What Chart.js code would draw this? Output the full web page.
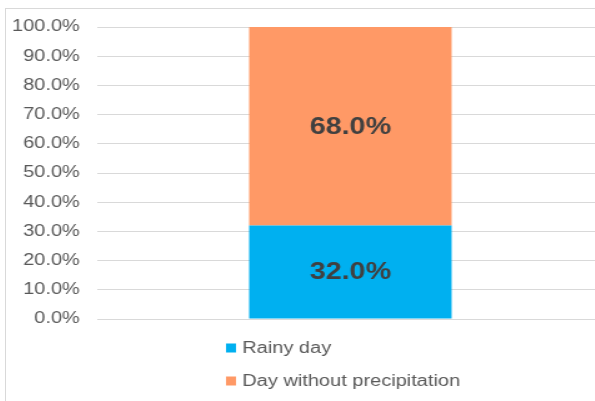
<!DOCTYPE html>
<html lang="en">

<head>
  <meta charset="UTF-8" />
  <title>Rainy days vs days without precipitation</title>
  <script src="https://cdn.jsdelivr.net/npm/chart.js"></script>

  <style>
    body {
      margin: 0;
      background: #fff;
      overflow: hidden;
      font-family: 'Liberation Sans', Arial, sans-serif;
    }

    .frame {
      position: absolute;
      left: 5px;
      top: 8px;
      width: 620px;
      height: 420px;
      border: 1px solid #d9d9d9;
    }

    #rainChart {
      position: absolute;
      left: 6px;
      top: 9px;
      transform: scaleX(1.25);
      transform-origin: 0 0;
    }
  </style>
</head>

<body>
  <div class="frame"></div>
  <canvas id="rainChart" width="486" height="392"></canvas>

  <script>
    // data
    const categories = ['Days'];
    const seriesNames = ['Rainy day', 'Day without precipitation'];
    const rainyDay = [32.0];
    const dryDay = [68.0];
    const seriesColors = ['#00B0F0', '#FF9966'];

    const fontFamily = "'Liberation Sans', Arial, sans-serif";

    // values written in the middle of each bar piece
    const barLabels = {
      id: 'barLabels',
      afterDatasetsDraw(chart) {
        const ctx = chart.ctx;
        ctx.save();
        ctx.font = 'bold 23px ' + fontFamily;
        ctx.fillStyle = '#404040';
        ctx.textAlign = 'center';
        ctx.textBaseline = 'middle';
        chart.data.datasets.forEach((ds, i) => {
          chart.getDatasetMeta(i).data.forEach((bar, j) => {
            const p = bar.getCenterPoint();
            ctx.fillText(ds.data[j].toFixed(1) + '%', p.x, p.y + 1);
          });
        });
        ctx.restore();
      }
    };

    // legend stacked one item per row under the plot
    const stackedLegend = {
      id: 'stackedLegend',
      afterDraw(chart) {
        const ctx = chart.ctx;
        const left = 176;
        let y = chart.chartArea.bottom + 29;
        ctx.save();
        ctx.font = '16px ' + fontFamily;
        ctx.textBaseline = 'middle';
        chart.data.datasets.forEach(ds => {
          ctx.fillStyle = ds.backgroundColor;
          ctx.fillRect(left, y - 4.5, 8, 9);
          ctx.fillStyle = '#595959';
          ctx.fillText(ds.label, left + 13, y + 1);
          y += 33;
        });
        ctx.restore();
      }
    };

    const ctx = document.getElementById('rainChart').getContext('2d');

    new Chart(ctx, {
      type: 'bar',
      data: {
        labels: categories,
        datasets: [{
          label: seriesNames[0],
          data: rainyDay,
          backgroundColor: seriesColors[0]
        }, {
          label: seriesNames[1],
          data: dryDay,
          backgroundColor: seriesColors[1]
        }]
      },
      options: {
        responsive: false,
        animation: false,
        barPercentage: 0.4,
        categoryPercentage: 1,
        layout: {
          padding: { top: 18, left: 1, right: 8, bottom: 82 }
        },
        plugins: {
          legend: { display: false },
          tooltip: { enabled: false }
        },
        scales: {
          x: {
            stacked: true,
            display: false
          },
          y: {
            stacked: true,
            min: 0,
            max: 100,
            border: { display: false },
            afterFit: scale => {
              scale.width = 72;
              scale.paddingTop = 0;
              scale.paddingBottom = 0;
            },
            grid: {
              color: '#d9d9d9',
              lineWidth: 1,
              drawTicks: false
            },
            ticks: {
              stepSize: 10,
              padding: 14,
              color: '#595959',
              font: { family: fontFamily, size: 16 },
              callback: v => v.toFixed(1) + '%'
            }
          }
        }
      },
      plugins: [barLabels, stackedLegend]
    });
  </script>
</body>

</html>
